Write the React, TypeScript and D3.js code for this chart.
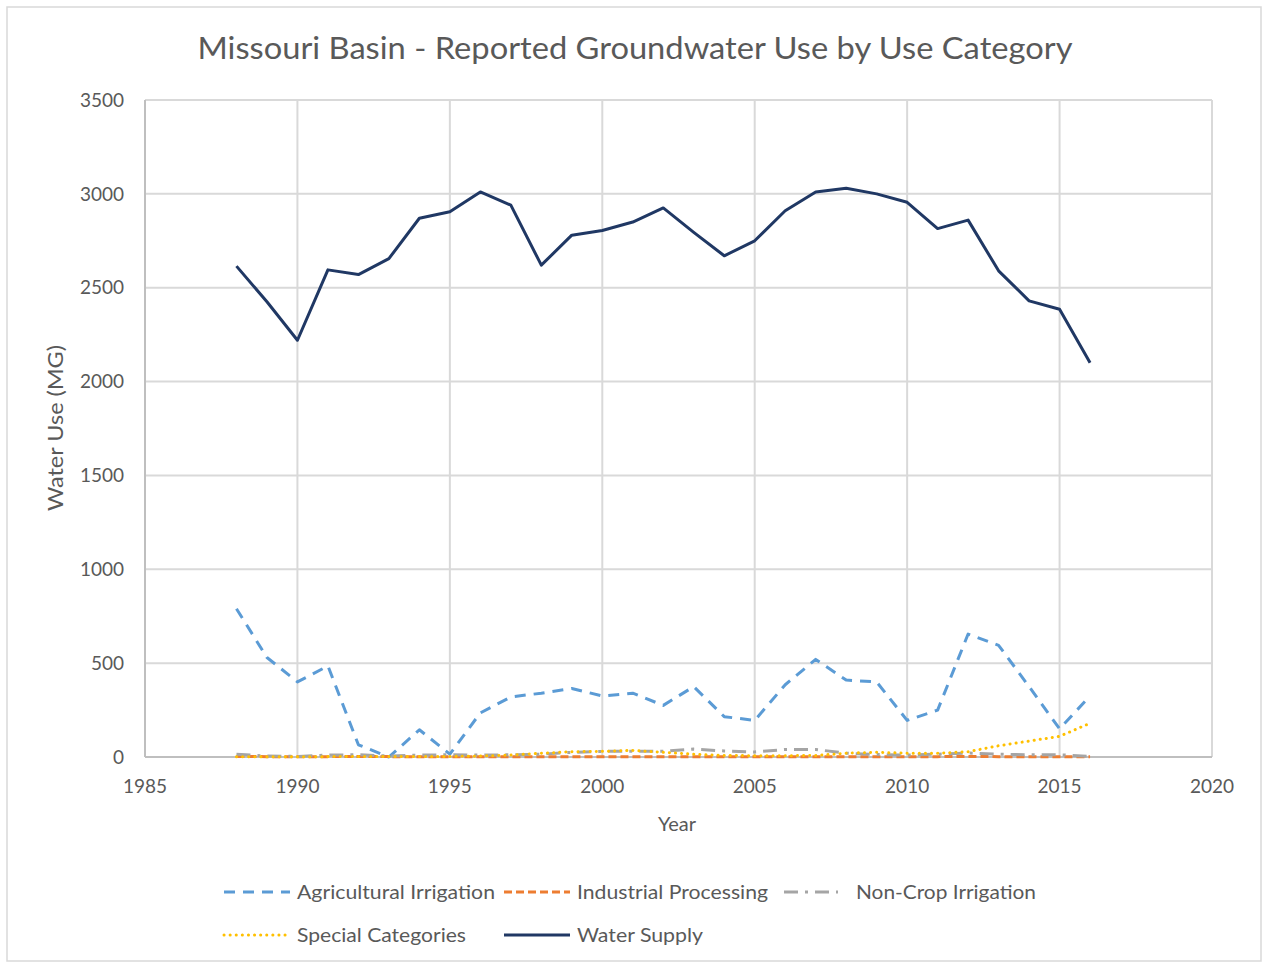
import { useEffect, useRef } from "react";
import * as d3 from "d3";

const years = d3.range(1988, 2017);

const agriculturalIrrigation = [790, 530, 400, 485, 65, 0, 145, 15, 235, 320, 340, 365, 325, 340, 275, 375, 215, 195, 385, 520, 410, 400, 195, 250, 655, 595, 375, 150, 325];
const industrialProcessing = [3, 2, 2, 2, 3, 2, 2, 2, 2, 2, 2, 2, 2, 2, 2, 2, 2, 2, 2, 2, 2, 2, 2, 2, 3, 2, 2, 2, 2];
const nonCropIrrigation = [15, 5, 3, 10, 12, 5, 10, 12, 10, 12, 15, 25, 30, 30, 30, 42, 32, 27, 40, 40, 20, 13, 10, 15, 21, 15, 12, 12, 3];
const specialCategories = [2, 2, 2, 2, 3, 3, 3, 3, 5, 10, 20, 28, 30, 35, 25, 15, 8, 7, 7, 8, 20, 25, 20, 20, 28, 60, 85, 110, 180];
const waterSupply = [2615, 2425, 2220, 2595, 2570, 2655, 2870, 2905, 3010, 2940, 2620, 2780, 2805, 2850, 2925, 2795, 2670, 2750, 2910, 3010, 3030, 3000, 2955, 2815, 2860, 2590, 2430, 2385, 2100];

const xTicks = [1985, 1990, 1995, 2000, 2005, 2010, 2015, 2020];
const yTicks = [0, 500, 1000, 1500, 2000, 2500, 3000, 3500];

const series = [
  { name: "Agricultural Irrigation", values: agriculturalIrrigation, color: "#5b9bd5", dash: "11,8", cap: "butt" },
  { name: "Industrial Processing", values: industrialProcessing, color: "#ed7d31", dash: "8,4", cap: "butt" },
  { name: "Non-Crop Irrigation", values: nonCropIrrigation, color: "#a5a5a5", dash: "14,7,3,7", cap: "butt" },
  { name: "Special Categories", values: specialCategories, color: "#ffc000", dash: "0.1,6", cap: "round" },
  { name: "Water Supply", values: waterSupply, color: "#203864", dash: null, cap: "butt" },
];

export default function App() {
  const ref = useRef<SVGSVGElement>(null);

  useEffect(() => {
    if (!ref.current) return;
    const svg = d3.select(ref.current);
    svg.selectAll("*").remove();

    const width = 1264;
    const height = 964;
    const font = "Lato, 'Open Sans', sans-serif";
    const textColor = "#595959";

    const x = d3.scaleLinear().domain([1985, 2020]).range([145, 1212]);
    const y = d3.scaleLinear().domain([0, 3500]).range([757, 100]);

    // chart frame
    svg.append("rect")
      .attr("x", 7).attr("y", 7)
      .attr("width", width - 10).attr("height", height - 10)
      .attr("fill", "white")
      .attr("stroke", "#d9d9d9")
      .attr("stroke-width", 1.5);

    // gridlines
    svg.append("g")
      .selectAll("line")
      .data(yTicks.slice(1))
      .join("line")
      .attr("x1", x(1985)).attr("x2", x(2020))
      .attr("y1", d => y(d)).attr("y2", d => y(d))
      .attr("stroke", "#d9d9d9").attr("stroke-width", 2);

    svg.append("g")
      .selectAll("line")
      .data(xTicks.slice(1))
      .join("line")
      .attr("x1", d => x(d)).attr("x2", d => x(d))
      .attr("y1", y(0)).attr("y2", y(3500))
      .attr("stroke", "#d9d9d9").attr("stroke-width", 2);

    // axes
    svg.append("line")
      .attr("x1", x(1985)).attr("x2", x(1985))
      .attr("y1", y(0)).attr("y2", y(3500))
      .attr("stroke", "#bfbfbf").attr("stroke-width", 2);
    svg.append("line")
      .attr("x1", x(1985)).attr("x2", x(2020))
      .attr("y1", y(0)).attr("y2", y(0))
      .attr("stroke", "#bfbfbf").attr("stroke-width", 2);

    // tick labels
    svg.append("g")
      .selectAll("text")
      .data(yTicks)
      .join("text")
      .attr("x", 124)
      .attr("y", d => y(d))
      .attr("dy", "0.35em")
      .attr("text-anchor", "end")
      .attr("font-family", font)
      .attr("font-size", 19)
      .attr("fill", textColor)
      .text(d => d);

    svg.append("g")
      .selectAll("text")
      .data(xTicks)
      .join("text")
      .attr("x", d => x(d))
      .attr("y", 793)
      .attr("text-anchor", "middle")
      .attr("font-family", font)
      .attr("font-size", 19)
      .attr("fill", textColor)
      .text(d => d);

    // series
    series.forEach(s => {
      const line = d3.line<number>()
        .x((_, i) => x(years[i]))
        .y(d => y(d));
      svg.append("path")
        .datum(s.values)
        .attr("d", line)
        .attr("fill", "none")
        .attr("stroke", s.color)
        .attr("stroke-width", 3)
        .attr("stroke-linejoin", "round")
        .attr("stroke-linecap", s.cap)
        .attr("stroke-dasharray", s.dash);
    });

    // titles
    svg.append("text")
      .attr("x", 635).attr("y", 59)
      .attr("text-anchor", "middle")
      .attr("font-family", font)
      .attr("font-size", 30)
      .attr("textLength", 875)
      .attr("lengthAdjust", "spacingAndGlyphs")
      .attr("fill", textColor)
      .text("Missouri Basin - Reported Groundwater Use by Use Category");

    svg.append("text")
      .attr("x", 677).attr("y", 831)
      .attr("text-anchor", "middle")
      .attr("font-family", font)
      .attr("font-size", 20)
      .attr("fill", textColor)
      .text("Year");

    svg.append("text")
      .attr("transform", "translate(63,428) rotate(-90)")
      .attr("text-anchor", "middle")
      .attr("font-family", font)
      .attr("font-size", 21)
      .attr("textLength", 166)
      .attr("lengthAdjust", "spacingAndGlyphs")
      .attr("fill", textColor)
      .text("Water Use (MG)");

    // legend
    const legendPos = [
      { lx: 224, ly: 892, len: 66, tx: 297, tw: 198 },
      { lx: 504, ly: 892, len: 66, tx: 577, tw: 191 },
      { lx: 784, ly: 892, len: 54, tx: 856, tw: 180 },
      { lx: 224, ly: 935, len: 66, tx: 297, tw: 169 },
      { lx: 504, ly: 935, len: 66, tx: 577, tw: 126 },
    ];
    series.forEach((s, i) => {
      const { lx, ly, len, tx, tw } = legendPos[i];
      const g = svg.append("g");
      g.append("line")
        .attr("x1", lx).attr("x2", lx + len)
        .attr("y1", ly).attr("y2", ly)
        .attr("stroke", s.color)
        .attr("stroke-width", 3)
        .attr("stroke-linecap", s.cap)
        .attr("stroke-dasharray", s.dash);
      g.append("text")
        .attr("x", tx)
        .attr("y", ly)
        .attr("dy", "0.35em")
        .attr("font-family", font)
        .attr("font-size", 20)
        .attr("textLength", tw)
        .attr("lengthAdjust", "spacingAndGlyphs")
        .attr("fill", textColor)
        .text(s.name);
    });
  }, []);

  return (
    <svg
      ref={ref}
      width={1264}
      height={964}
      style={{ position: "absolute", left: 0, top: 0, background: "white" }}
    />
  );
}
